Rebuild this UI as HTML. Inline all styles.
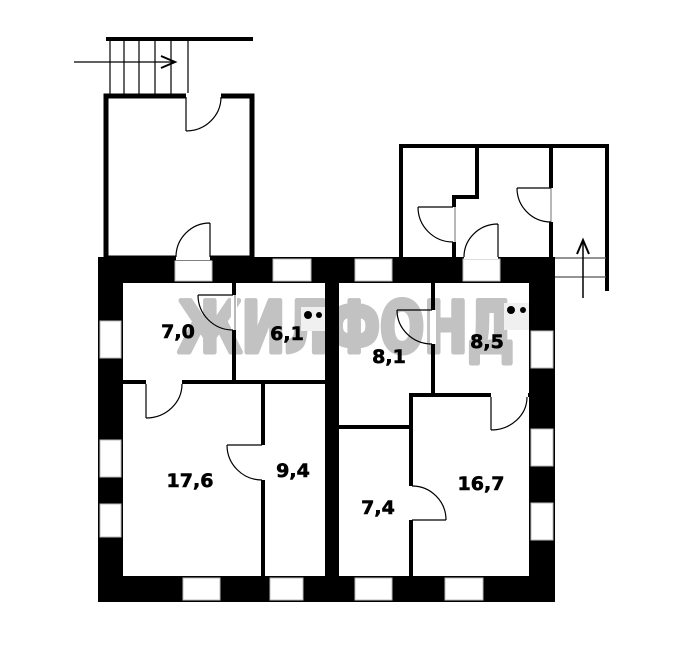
<!DOCTYPE html>
<html><head><meta charset="utf-8"><style>body{margin:0;background:#fff}svg{display:block}</style></head>
<body>
<svg width="686" height="664" viewBox="0 0 686 664" xmlns="http://www.w3.org/2000/svg">
<rect width="686" height="664" fill="#fff"/>
<!-- watermark -->
<text x="178" y="352" style="font-family:'DejaVu Sans','Liberation Sans',sans-serif;font-size:70px;font-weight:bold" fill="#c2c2c2" stroke="#c2c2c2" stroke-width="5" stroke-linejoin="round" textLength="336" lengthAdjust="spacingAndGlyphs">ЖИЛФОНД</text>
<!-- main thick walls -->
<g fill="#000">
<rect x="98" y="257" width="457" height="26"/>
<rect x="98" y="576" width="457" height="26"/>
<rect x="98" y="257" width="25" height="345"/>
<rect x="529" y="257" width="26" height="345"/>
<rect x="325" y="257" width="14" height="345"/>
<rect x="123" y="380" width="202" height="4"/>
<rect x="232" y="283" width="4" height="100"/>
<rect x="261" y="384" width="4" height="192"/>
<rect x="431" y="283" width="4" height="112"/>
<rect x="409" y="393" width="120" height="4"/>
<rect x="409" y="393" width="4" height="183"/>
<rect x="339" y="425" width="70" height="4"/>
</g>
<g fill="#fff" stroke="#bbb" stroke-width="1">
<rect x="175" y="259" width="37" height="22"/>
<rect x="273" y="259" width="38" height="22"/>
<rect x="355" y="259" width="37" height="22"/>
<rect x="463" y="259" width="37" height="22"/>
<rect x="100" y="321" width="21" height="37"/>
<rect x="100" y="440" width="21" height="37"/>
<rect x="100" y="504" width="21" height="33"/>
<rect x="531" y="331" width="22" height="37"/>
<rect x="531" y="429" width="22" height="37"/>
<rect x="531" y="503" width="22" height="37"/>
<rect x="183" y="578" width="37" height="22"/>
<rect x="270" y="578" width="33" height="22"/>
<rect x="355" y="578" width="37" height="22"/>
<rect x="445" y="578" width="38" height="22"/>
</g>
<g fill="#fff">
<rect x="231" y="295" width="6" height="35"/>
<rect x="146" y="379" width="36" height="6"/>
<rect x="260" y="445" width="6" height="35"/>
<rect x="430" y="310" width="6" height="34"/>
<rect x="491" y="392" width="37" height="6"/>
<rect x="408" y="486" width="6" height="34"/>
</g>
<g fill="none" stroke="#000" stroke-width="1.2">
<line x1="235" y1="295" x2="235" y2="330" stroke="#888"/>
<path d="M198 295 H233 M198 295 A35 35 0 0 0 233 330"/>
<path d="M146 384 V418 M146 418 A36 34 0 0 0 182 384"/>
<path d="M227 445 H262 M227 445 A35 35 0 0 0 262 480"/>
<path d="M397 310 H432 M397 310 A35 34 0 0 0 432 344"/>
<path d="M491 397 V430 M491 430 A36 33 0 0 0 527 397"/>
<path d="M412 520 H446 M446 520 A34 34 0 0 0 412 486"/>
</g>
<!-- entry vestibule -->
<g fill="none" stroke="#000">
<rect x="106" y="96" width="146" height="162" stroke-width="5"/>
<line x1="106" y1="39" x2="253" y2="39" stroke-width="4"/>
<g stroke-width="1.2">
<line x1="110" y1="39" x2="110" y2="94"/><line x1="124" y1="39" x2="124" y2="94"/>
<line x1="139" y1="39" x2="139" y2="94"/><line x1="155" y1="39" x2="155" y2="94"/>
<line x1="171" y1="39" x2="171" y2="94"/><line x1="188" y1="39" x2="188" y2="94"/>
<line x1="74" y1="62" x2="175" y2="62"/>
<path d="M161 56 L175 62 L161 68" stroke-width="2"/>
</g>
</g>
<rect x="186" y="93" width="35" height="6" fill="#fff"/>
<rect x="176" y="254" width="34" height="6" fill="#fff"/>
<g fill="none" stroke="#000" stroke-width="1.2">
<path d="M186 97 V131 M186 131 A35 34 0 0 0 221 97"/>
<path d="M210 223 V257 M210 223 A34 34 0 0 0 176 257"/>
</g>
<!-- right annex -->
<g fill="none" stroke="#000" stroke-width="4">
<path d="M401 257 V146 H607 V291"/>
<path d="M477 146 V197 H454 V257"/>
<line x1="551" y1="146" x2="551" y2="257"/>
</g>
<rect x="451" y="207" width="6" height="35" fill="#fff"/>
<rect x="549" y="188" width="6" height="34" fill="#fff"/>
<rect x="464" y="254" width="34" height="5" fill="#fff"/>
<g fill="none" stroke="#000" stroke-width="1.2">
<line x1="455" y1="207" x2="455" y2="242" stroke="#888"/>
<path d="M418 207 H453 M418 207 A35 35 0 0 0 453 242"/>
<line x1="551" y1="188" x2="551" y2="222" stroke="#888"/>
<path d="M517 188 H551 M517 188 A34 34 0 0 0 551 222"/>
<path d="M498 224 V257 M498 224 A34 33 0 0 0 464 257"/>
<line x1="555" y1="258" x2="606" y2="258" stroke="#555"/>
<line x1="555" y1="277" x2="606" y2="277" stroke="#555"/>
<line x1="583" y1="298" x2="583" y2="241" stroke-width="1.5"/>
<path d="M577 254 L583 240 L589 254" stroke-width="2"/>
</g>
<!-- stoves -->
<rect x="301" y="307" width="24" height="24" fill="#f0f0f0"/>
<circle cx="308" cy="315" r="4" fill="#000"/><circle cx="319" cy="315" r="3" fill="#000"/>
<rect x="504" y="303" width="25" height="27" fill="#f0f0f0"/>
<circle cx="511" cy="310" r="4" fill="#000"/><circle cx="523" cy="310" r="3" fill="#000"/>
<!-- labels -->
<g style="font-family:'DejaVu Sans','Liberation Sans',sans-serif;font-size:19px;font-weight:bold" fill="#000" stroke="#000" stroke-width="0.6" text-anchor="middle">
<text x="178" y="338">7,0</text>
<text x="287" y="340">6,1</text>
<text x="389" y="363">8,1</text>
<text x="487" y="348">8,5</text>
<text x="190" y="487">17,6</text>
<text x="293" y="477">9,4</text>
<text x="378" y="514">7,4</text>
<text x="481" y="490">16,7</text>
</g>
</svg>
</body></html>
